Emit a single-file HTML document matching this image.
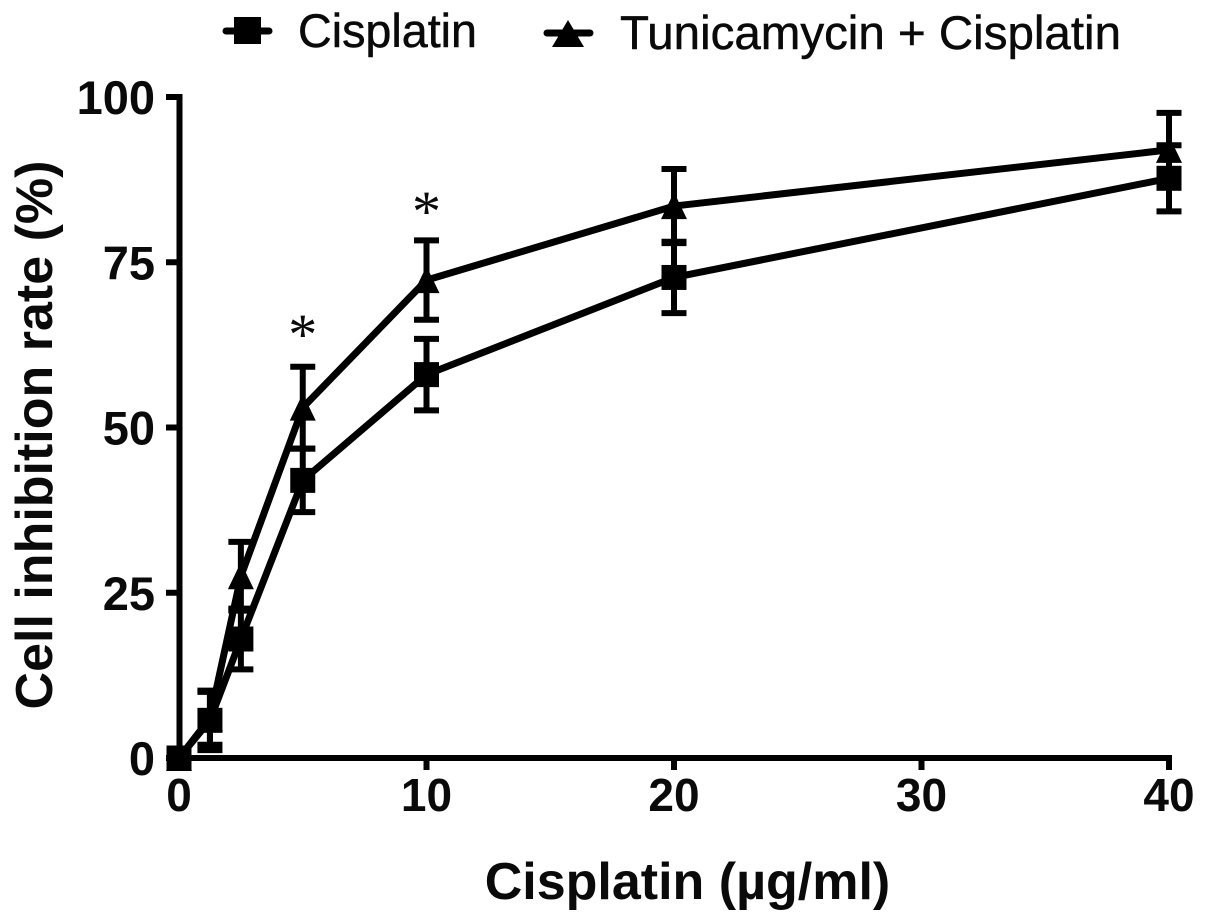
<!DOCTYPE html>
<html>
<head>
<meta charset="utf-8">
<title>Cell inhibition rate chart</title>
<style>
html,body{margin:0;padding:0;background:#fff;}
svg{display:block;}
text{font-family:"Liberation Sans",sans-serif;fill:#0a0a0a;}
.bold{font-weight:bold;}
.legend-text{stroke:#0a0a0a;stroke-width:0.5px;}
</style>
</head>
<body>
<svg id="chart" width="1205" height="921" viewBox="0 0 1205 921" xmlns="http://www.w3.org/2000/svg">
  <g id="axes"></g>
  <g id="series"></g>
  <text class="bold" x="687.5" y="899" font-size="52" text-anchor="middle">Cisplatin (µg/ml)</text>
  <text class="bold" transform="translate(52,435) rotate(-90)" font-size="52" text-anchor="middle">Cell inhibition rate (%)</text>
  <g>
    <g>
      <line x1="226" y1="31" x2="269" y2="31" stroke="#000" stroke-width="7" stroke-linecap="round"/>
      <rect x="234" y="17" width="27" height="27" fill="#000"/>
      <text class="legend-text" x="298" y="47" font-size="47" textLength="179" lengthAdjust="spacingAndGlyphs">Cisplatin</text>
    </g>
    <g>
      <line x1="547" y1="33" x2="590" y2="33" stroke="#000" stroke-width="7" stroke-linecap="round"/>
      <polygon points="568,20 584,47 552,47" fill="#000"/>
      <text class="legend-text" x="620" y="49" font-size="47" textLength="501" lengthAdjust="spacingAndGlyphs">Tunicamycin + Cisplatin</text>
    </g>
  </g>
</svg>
<script>
const doses = [0, 1.25, 2.5, 5, 10, 20, 40];
const cisplatinValues = [0, 5.7, 18, 42, 58, 72.7, 87.7];
const cisplatinErrors = [0, 4.5, 4.6, 4.8, 5.4, 5.4, 5];
const comboValues = [0, 6, 27.5, 53, 72.3, 83.5, 92];
const comboErrors = [0, 4, 5.2, 6.2, 6, 5.6, 5.6];
const xTickLabels = [0, 10, 20, 30, 40];
const yTickLabels = [0, 25, 50, 75, 100];
const significantDoses = [5, 10];
const significantHeights = [65.2, 83.8];

const NS = 'http://www.w3.org/2000/svg';
const xScale = v => 179 + v * 24.75;
const yScale = v => 758 - v * 6.61;
const mk = (parent, tag, props) => {
  const el = document.createElementNS(NS, tag);
  for (const k in props) el.setAttribute(k, props[k]);
  parent.appendChild(el);
  return el;
};
const axes = document.getElementById('axes');
const series = document.getElementById('series');

const xLine = mk(axes, 'line', {x1: xScale(0), y1: yScale(0), x2: xScale(40) + 3, y2: yScale(0), stroke: '#000', 'stroke-width': 6});


const yLine = mk(axes, 'line', {x1: xScale(0) + 0.5, y1: yScale(100) - 3, x2: xScale(0) + 0.5, y2: yScale(0) + 3, stroke: '#000', 'stroke-width': 6});



xTickLabels.forEach(t => {
  const tick = mk(axes, 'line', {x1: xScale(t), y1: yScale(0), x2: xScale(t), y2: yScale(0) + 12, stroke: '#000', 'stroke-width': 6});
  
  
  const label = mk(axes, 'text', {x: xScale(t), y: 811, 'font-size': 46, 'text-anchor': 'middle', class: 'bold'});
  label.textContent = t;
  
  
});
yTickLabels.forEach(t => {
  const tick = mk(axes, 'line', {x1: xScale(0) - 13, y1: yScale(t), x2: xScale(0), y2: yScale(t), stroke: '#000', 'stroke-width': 6});
  
  
  const label = mk(axes, 'text', {x: 155, y: yScale(t) + 17, 'font-size': 47, 'text-anchor': 'end', class: 'bold'});
  label.textContent = t;
  
  
});

function drawSeries(name, values, errors, marker) {
  const group = mk(series, 'g', {});
  
  
  const pts = doses.map((d, i) => xScale(d) + ',' + yScale(values[i])).join(' ');
  const line = mk(group, 'polyline', {points: pts, fill: 'none', stroke: '#000', 'stroke-width': 7, 'stroke-linejoin': 'round'});
  
  
  doses.forEach((d, i) => {
    const x = xScale(d), y = yScale(values[i]);
    if (errors[i] > 0) {
      const up = yScale(values[i] + errors[i]), lo = yScale(values[i] - errors[i]);
      const bar = mk(group, 'path', {d: `M${x} ${up}V${lo}M${x - 12.5} ${up}H${x + 12.5}M${x - 12.5} ${lo}H${x + 12.5}`, fill: 'none', stroke: '#000', 'stroke-width': 6});
      
      
    }
    let m;
    if (marker === 'square') {
      m = mk(group, 'rect', {x: x - 12.5, y: y - 12.5, width: 25, height: 25, fill: '#000'});
    } else {
      m = mk(group, 'polygon', {points: `${x},${y - 14} ${x + 13},${y + 13} ${x - 13},${y + 13}`, fill: '#000'});
    }
    
    
  });
}
drawSeries('combo-series', comboValues, comboErrors, 'triangle');
drawSeries('cisplatin-series', cisplatinValues, cisplatinErrors, 'square');

significantDoses.forEach((d, i) => {
  const star = mk(series, 'text', {x: xScale(d), y: yScale(significantHeights[i]) + 27, 'font-size': 58, 'text-anchor': 'middle', style: 'font-family:"Liberation Serif",serif'});
  star.textContent = '*';
  
  
});
</script>
</body>
</html>
